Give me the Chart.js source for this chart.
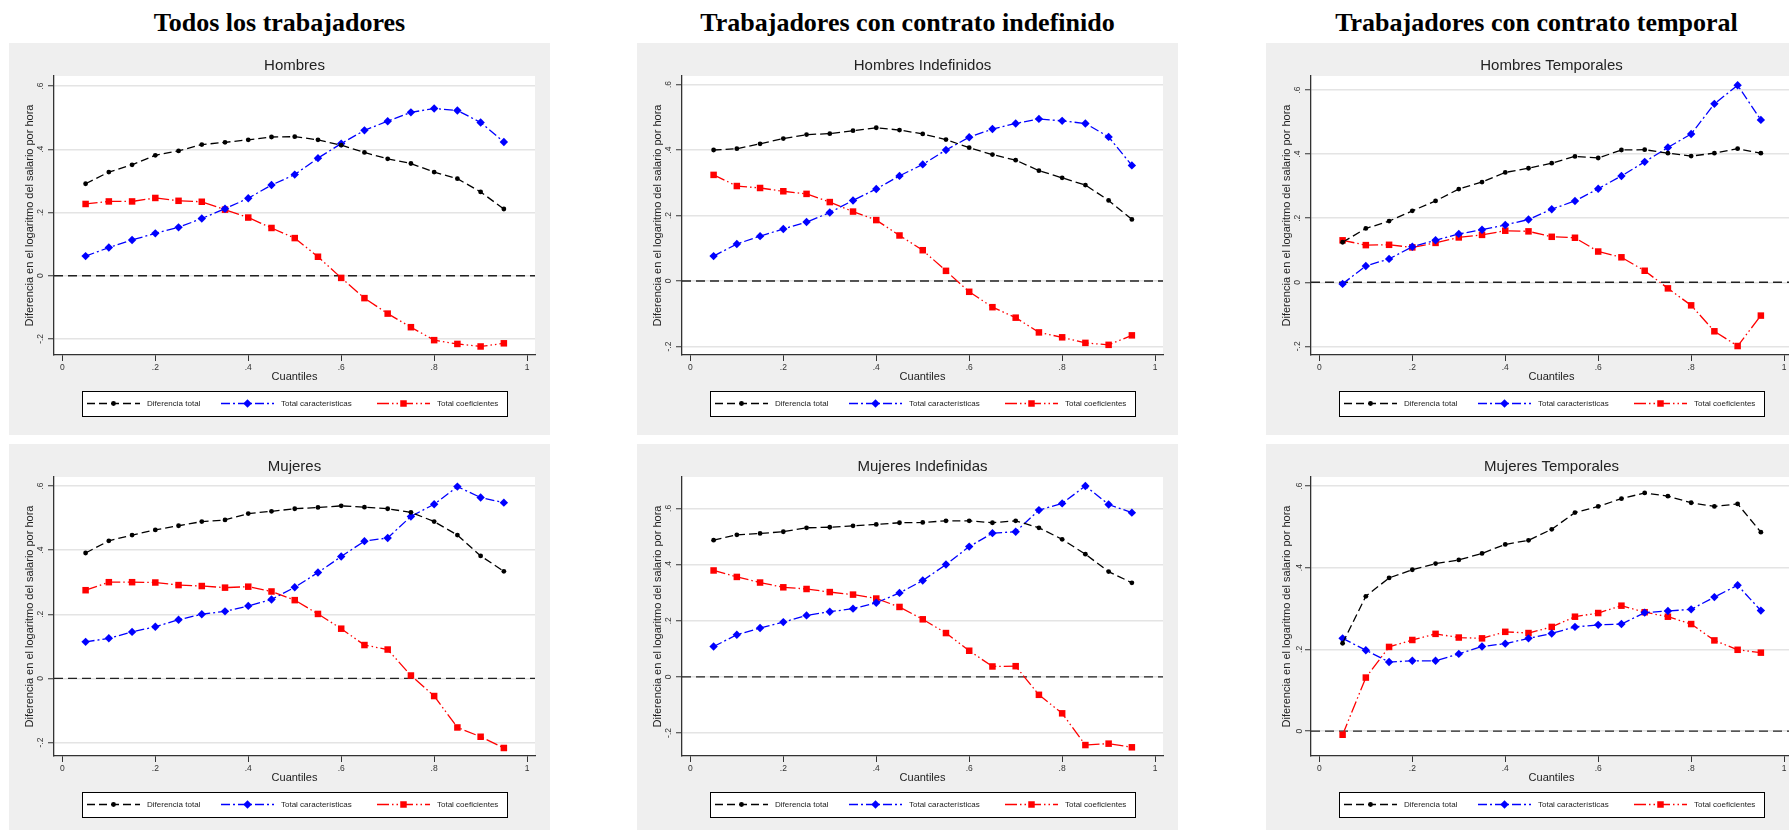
<!DOCTYPE html>
<html lang="es">
<head>
<meta charset="utf-8">
<title>Descomposición de la diferencia salarial por cuantiles</title>
<script src="https://cdn.jsdelivr.net/npm/chart.js@4.4.1/dist/chart.umd.min.js"></script>
<style>
  html, body { margin: 0; padding: 0; background: #fff; }
  body { width: 1789px; height: 830px; position: relative; overflow: hidden; }
  .col-title {
    position: absolute; top: 8px; width: 541px; text-align: center;
    font: bold 26px "Liberation Serif", "DejaVu Serif", serif; line-height: 30px; color: #000;
    white-space: nowrap;
  }
  .panel { position: absolute; width: 541px; height: 392px; }
</style>
</head>
<body>
<div class="col-title" style="left:9px">Todos los trabajadores</div>
<div class="col-title" style="left:637px">Trabajadores con contrato indefinido</div>
<div class="col-title" style="left:1266px">Trabajadores con contrato temporal</div>

<div class="panel" style="left:9px;top:43px"><canvas id="hombres"></canvas></div>
<div class="panel" style="left:637px;top:43px"><canvas id="hombres-ind"></canvas></div>
<div class="panel" style="left:1266px;top:43px"><canvas id="hombres-temp"></canvas></div>
<div class="panel" style="left:9px;top:444px"><canvas id="mujeres"></canvas></div>
<div class="panel" style="left:637px;top:444px"><canvas id="mujeres-ind"></canvas></div>
<div class="panel" style="left:1266px;top:444px"><canvas id="mujeres-temp"></canvas></div>

<script>
const cuantiles = [0.05, 0.10, 0.15, 0.20, 0.25, 0.30, 0.35, 0.40, 0.45, 0.50,
  0.55, 0.60, 0.65, 0.70, 0.75, 0.80, 0.85, 0.90, 0.95];

const xTicks = [0, 0.2, 0.4, 0.6, 0.8, 1];
const xTickLabels = ["0", ".2", ".4", ".6", ".8", "1"];
const yTicks = [-0.2, 0, 0.2, 0.4, 0.6];
const yTickLabels = ["-.2", "0", ".2", ".4", ".6"];

const series = ["Diferencia total", "Total características", "Total coeficientes"];

// Hombres
const hombresTotal = [0.291, 0.328, 0.351, 0.381, 0.395, 0.415, 0.422, 0.430, 0.439, 0.440,
  0.430, 0.413, 0.390, 0.370, 0.355, 0.328, 0.307, 0.265, 0.211];
const hombresCaract = [0.062, 0.089, 0.113, 0.134, 0.153, 0.181, 0.212, 0.245, 0.287, 0.320,
  0.372, 0.418, 0.460, 0.489, 0.517, 0.529, 0.523, 0.485, 0.423];
const hombresCoef = [0.227, 0.235, 0.235, 0.246, 0.237, 0.234, 0.209, 0.184, 0.151, 0.119,
  0.060, -0.007, -0.071, -0.120, -0.163, -0.204, -0.216, -0.224, -0.214];

// Hombres indefinidos
const hombresIndTotal = [0.400, 0.404, 0.419, 0.435, 0.447, 0.450, 0.459, 0.468, 0.461, 0.449,
  0.432, 0.407, 0.386, 0.369, 0.337, 0.315, 0.293, 0.246, 0.188];
const hombresIndCaract = [0.076, 0.113, 0.137, 0.159, 0.180, 0.209, 0.246, 0.281, 0.321, 0.356,
  0.400, 0.439, 0.464, 0.481, 0.495, 0.489, 0.481, 0.440, 0.353];
const hombresIndCoef = [0.324, 0.290, 0.284, 0.274, 0.266, 0.241, 0.212, 0.186, 0.139, 0.094,
  0.031, -0.033, -0.080, -0.112, -0.157, -0.172, -0.189, -0.195, -0.166];

// Hombres temporales
const hombresTempTotal = [0.125, 0.168, 0.191, 0.223, 0.254, 0.291, 0.313, 0.343, 0.356, 0.372,
  0.393, 0.388, 0.413, 0.414, 0.403, 0.394, 0.403, 0.417, 0.403];
const hombresTempCaract = [-0.005, 0.051, 0.073, 0.111, 0.131, 0.151, 0.164, 0.179, 0.196, 0.228,
  0.254, 0.292, 0.332, 0.376, 0.421, 0.463, 0.557, 0.615, 0.507];
const hombresTempCoef = [0.131, 0.116, 0.117, 0.109, 0.123, 0.140, 0.148, 0.161, 0.159, 0.142,
  0.139, 0.096, 0.078, 0.036, -0.019, -0.072, -0.153, -0.199, -0.104];

// Mujeres
const mujeresTotal = [0.391, 0.429, 0.447, 0.463, 0.476, 0.489, 0.494, 0.514, 0.521, 0.529,
  0.533, 0.538, 0.534, 0.529, 0.518, 0.489, 0.447, 0.382, 0.334];
const mujeresCaract = [0.114, 0.125, 0.145, 0.161, 0.183, 0.200, 0.209, 0.226, 0.246, 0.284,
  0.330, 0.380, 0.428, 0.438, 0.505, 0.543, 0.598, 0.564, 0.548];
const mujeresCoef = [0.275, 0.300, 0.300, 0.299, 0.291, 0.288, 0.283, 0.286, 0.271, 0.244,
  0.201, 0.155, 0.104, 0.090, 0.009, -0.055, -0.153, -0.182, -0.217];

// Mujeres indefinidas
const mujeresIndTotal = [0.487, 0.506, 0.511, 0.517, 0.531, 0.533, 0.538, 0.543, 0.549, 0.550,
  0.556, 0.556, 0.549, 0.556, 0.531, 0.490, 0.437, 0.375, 0.335];
const mujeresIndCaract = [0.108, 0.150, 0.174, 0.195, 0.219, 0.232, 0.243, 0.264, 0.299, 0.343,
  0.400, 0.464, 0.512, 0.517, 0.594, 0.618, 0.680, 0.614, 0.585];
const mujeresIndCoef = [0.379, 0.356, 0.336, 0.319, 0.313, 0.302, 0.293, 0.279, 0.249, 0.205,
  0.156, 0.093, 0.037, 0.038, -0.064, -0.130, -0.243, -0.238, -0.251];

// Mujeres temporales
const mujeresTempTotal = [0.215, 0.330, 0.375, 0.395, 0.410, 0.419, 0.435, 0.457, 0.467, 0.494,
  0.535, 0.550, 0.569, 0.583, 0.575, 0.559, 0.550, 0.556, 0.487];
const mujeresTempCaract = [0.227, 0.198, 0.169, 0.172, 0.172, 0.189, 0.207, 0.214, 0.227, 0.239,
  0.255, 0.260, 0.262, 0.290, 0.294, 0.298, 0.328, 0.357, 0.295];
const mujeresTempCoef = [-0.009, 0.131, 0.206, 0.223, 0.238, 0.229, 0.227, 0.243, 0.240, 0.255,
  0.280, 0.289, 0.307, 0.291, 0.280, 0.262, 0.222, 0.199, 0.192];

Chart.defaults.font.family = '"Liberation Sans", Arial, sans-serif';
Chart.defaults.color = "#222";

const estilos = [
  { color: "#000000", dash: [8, 4], punto: "circle", radio: 2.4 },
  { color: "#0000ff", dash: [9, 3, 2, 3], punto: "rectRot", radio: 4.2 },
  { color: "#ff0000", dash: [12, 3, 1.5, 3, 1.5, 3], punto: "rect", radio: 4.6 },
];

function marca(ctx, tipo, x, y, r) {
  ctx.beginPath();
  if (tipo === "circle") {
    ctx.arc(x, y, r, 0, Math.PI * 2);
  } else if (tipo === "rectRot") {
    ctx.moveTo(x, y - r); ctx.lineTo(x + r, y); ctx.lineTo(x, y + r); ctx.lineTo(x - r, y);
    ctx.closePath();
  } else {
    const s = r * Math.SQRT1_2;
    ctx.rect(x - s, y - s, 2 * s, 2 * s);
  }
  ctx.fill();
}

// fondo gris, área blanca, línea en y = 0 y leyenda al estilo Stata
const decorado = {
  id: "decorado",
  beforeDraw(chart) {
    const { ctx, chartArea: a } = chart;
    ctx.save();
    ctx.fillStyle = "#efefef";
    ctx.fillRect(0, 0, chart.width, chart.height);
    ctx.fillStyle = "#ffffff";
    ctx.fillRect(a.left, a.top, a.right - a.left, a.bottom - a.top);
    ctx.restore();
  },
  beforeDatasetsDraw(chart) {
    const { ctx, chartArea: a } = chart;
    const py = chart.scales.y.getPixelForValue(0);
    ctx.save();
    ctx.strokeStyle = "#222";
    ctx.lineWidth = 1.4;
    ctx.setLineDash([9, 5]);
    ctx.beginPath();
    ctx.moveTo(a.left, py);
    ctx.lineTo(a.right, py);
    ctx.stroke();
    ctx.restore();
  },
  afterDraw(chart) {
    const { ctx } = chart;
    const x0 = 73, y0 = 348, w = 425, h = 25;
    const cy = y0 + h / 2;
    const inicios = [78, 212, 368];
    ctx.save();
    ctx.fillStyle = "#fff";
    ctx.fillRect(x0, y0, w, h);
    ctx.strokeStyle = "#000";
    ctx.lineWidth = 1;
    ctx.strokeRect(x0 + 0.5, y0 + 0.5, w, h);
    ctx.font = '8px "Liberation Sans", Arial, sans-serif';
    ctx.textBaseline = "middle";
    chart.data.datasets.forEach((ds, i) => {
      const sx = inicios[i];
      ctx.strokeStyle = ds.borderColor;
      ctx.lineWidth = ds.borderWidth;
      ctx.setLineDash(ds.borderDash);
      ctx.beginPath();
      ctx.moveTo(sx, cy);
      ctx.lineTo(sx + 53, cy);
      ctx.stroke();
      ctx.setLineDash([]);
      ctx.fillStyle = ds.borderColor;
      marca(ctx, ds.pointStyle, sx + 26.5, cy, ds.pointRadius);
      ctx.fillStyle = "#222";
      ctx.fillText(ds.label, sx + 60, cy);
    });
    ctx.restore();
  },
};

function panel(id, titulo, valores, yMin, yMax) {
  new Chart(document.getElementById(id), {
    type: "line",
    data: {
      datasets: valores.map((v, i) => ({
        label: series[i],
        data: cuantiles.map((q, k) => ({ x: q, y: v[k] })),
        borderColor: estilos[i].color,
        backgroundColor: estilos[i].color,
        borderWidth: 1.3,
        borderDash: estilos[i].dash,
        pointStyle: estilos[i].punto,
        pointRadius: estilos[i].radio,
        pointBorderWidth: 0,
        tension: 0,
      })),
    },
    options: {
      responsive: true,
      maintainAspectRatio: false,
      animation: false,
      layout: { padding: { left: 0, top: 0, right: 15, bottom: 51 } },
      plugins: {
        legend: { display: false },
        tooltip: { enabled: false },
        title: {
          display: true,
          text: titulo,
          fullSize: false,
          color: "#222",
          font: { size: 15, weight: "normal" },
          padding: { top: 14, bottom: 1 },
        },
      },
      scales: {
        x: {
          type: "linear",
          min: -0.018,
          max: 1.017,
          afterBuildTicks(scale) {
            scale.ticks = xTicks.map((v) => ({ value: v }));
          },
          afterFit(scale) {
            scale.height = 29;
          },
          ticks: {
            autoSkip: false,
            maxRotation: 0,
            padding: 2,
            font: { size: 8.5 },
            color: "#333",
            callback: (v) => xTickLabels[xTicks.findIndex((t) => Math.abs(t - v) < 1e-9)],
          },
          grid: { drawOnChartArea: false, tickLength: 6, tickColor: "#333", tickWidth: 1 },
          border: { color: "#333", width: 1.3 },
          title: { display: true, text: "Cuantiles", font: { size: 11 }, color: "#222", padding: 0 },
        },
        y: {
          min: yMin,
          max: yMax,
          afterBuildTicks(scale) {
            scale.ticks = yTicks.filter((v) => v >= yMin && v <= yMax).map((v) => ({ value: v }));
          },
          afterFit(scale) {
            scale.width = 45;
          },
          ticks: {
            minRotation: 90,
            maxRotation: 90,
            crossAlign: "center",
            padding: 2,
            font: { size: 8.5 },
            color: "#333",
            callback: (v) => yTickLabels[yTicks.findIndex((t) => Math.abs(t - v) < 1e-9)],
          },
          grid: { color: "#e4e4e4", lineWidth: 1.5, tickLength: 6, tickColor: "#333", tickWidth: 1 },
          border: { color: "#333", width: 1.3 },
          title: {
            display: true,
            text: "Diferencia en el logaritmo del salario por hora",
            font: { size: 11 },
            color: "#222",
            padding: { top: 14, bottom: 0 },
          },
        },
      },
    },
    plugins: [decorado],
  });
}

panel("hombres", "Hombres", [hombresTotal, hombresCaract, hombresCoef], -0.251, 0.632);
panel("hombres-ind", "Hombres Indefinidos", [hombresIndTotal, hombresIndCaract, hombresIndCoef], -0.226, 0.626);
panel("hombres-temp", "Hombres Temporales", [hombresTempTotal, hombresTempCaract, hombresTempCoef], -0.227, 0.644);
panel("mujeres", "Mujeres", [mujeresTotal, mujeresCaract, mujeresCoef], -0.242, 0.628);
panel("mujeres-ind", "Mujeres Indefinidas", [mujeresIndTotal, mujeresIndCaract, mujeresIndCoef], -0.282, 0.712);
panel("mujeres-temp", "Mujeres Temporales", [mujeresTempTotal, mujeresTempCaract, mujeresTempCoef], -0.061, 0.622);
</script>
</body>
</html>
